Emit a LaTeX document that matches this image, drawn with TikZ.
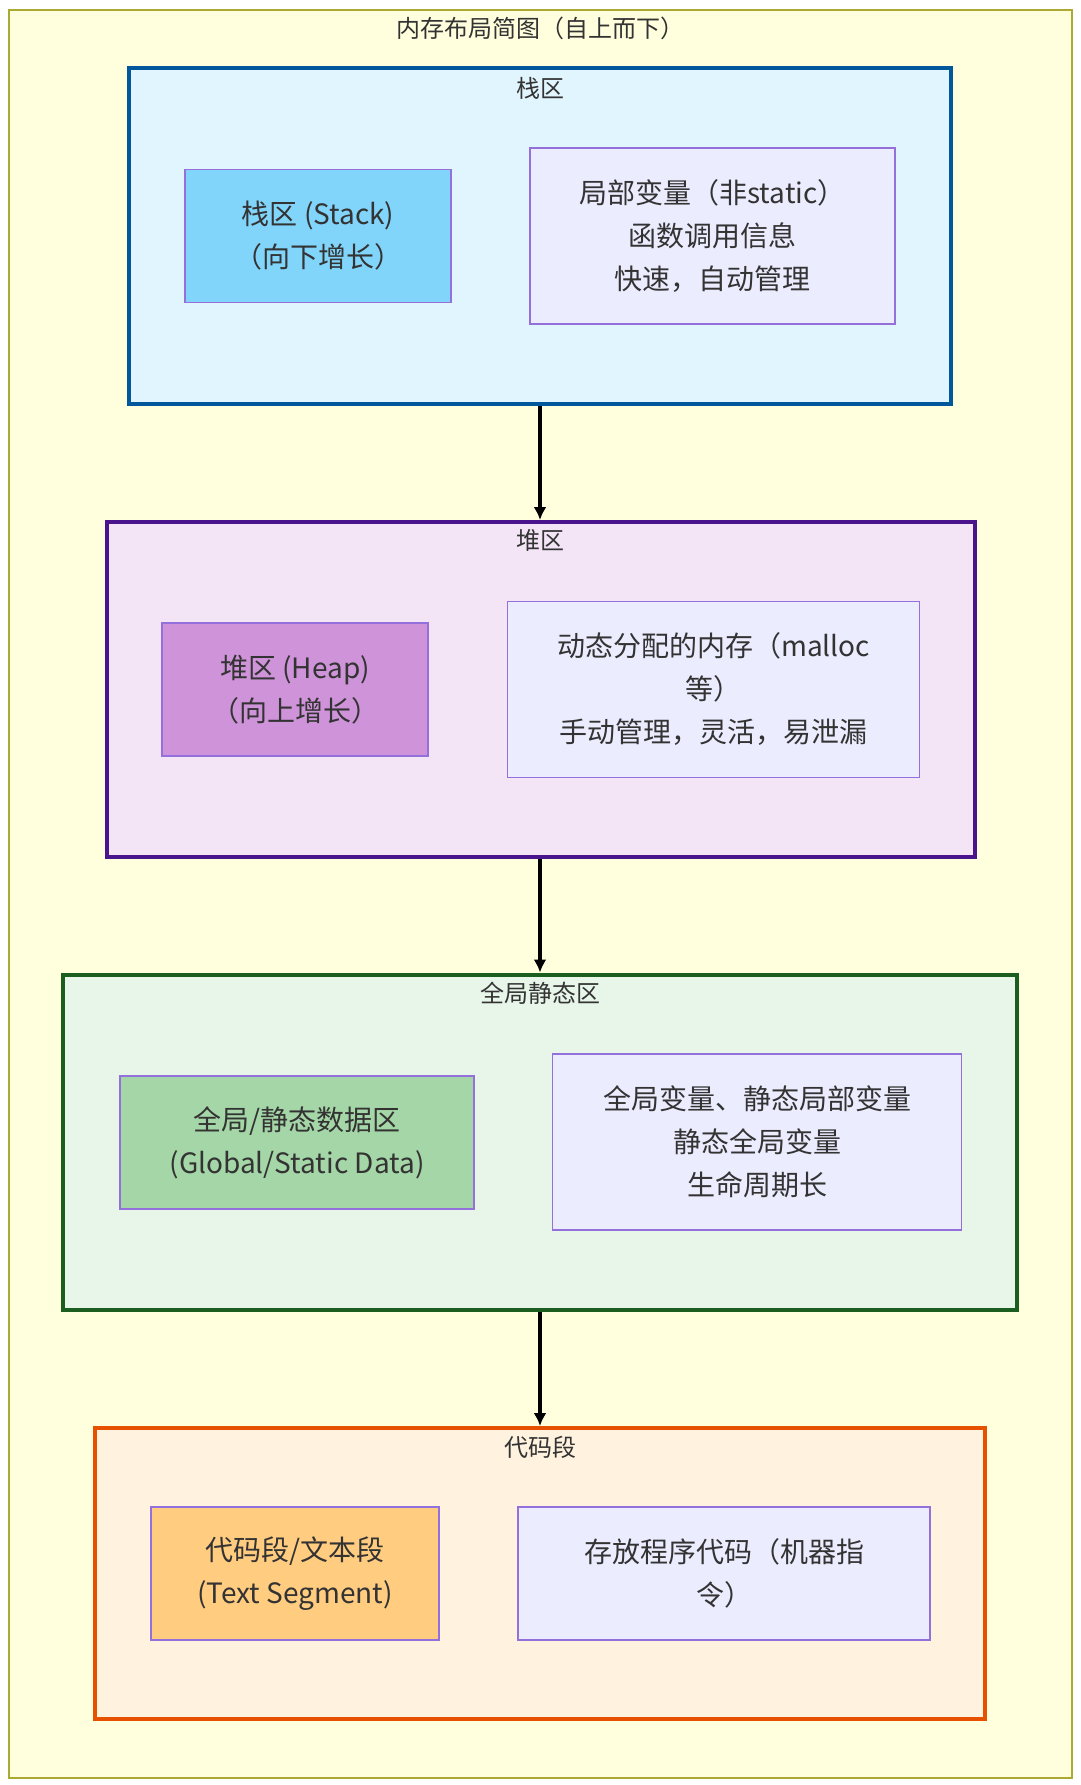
\documentclass[tikz,border=0pt]{standalone}
\usepackage{fontspec}
\setmainfont{Noto Sans CJK SC}
\usetikzlibrary{arrows.meta,positioning}
\definecolor{outerfill}{HTML}{FFFFDE}
\definecolor{outerdraw}{HTML}{AAAA33}
\definecolor{stackfill}{HTML}{E1F5FE}
\definecolor{stackdraw}{HTML}{01579B}
\definecolor{stackpfill}{HTML}{81D4FA}
\definecolor{heapfill}{HTML}{F3E5F5}
\definecolor{heapdraw}{HTML}{4A148C}
\definecolor{heappfill}{HTML}{CE93D8}
\definecolor{globfill}{HTML}{E8F5E9}
\definecolor{globdraw}{HTML}{1B5E20}
\definecolor{globpfill}{HTML}{A5D6A7}
\definecolor{codefill}{HTML}{FFF3E0}
\definecolor{codedraw}{HTML}{E65100}
\definecolor{codepfill}{HTML}{FFCC80}
\definecolor{infofill}{HTML}{ECECFF}
\definecolor{infodraw}{HTML}{9370DB}
\definecolor{txt}{HTML}{333333}
\tikzset{
    outerbox/.style={draw=outerdraw,fill=outerfill,line width=1.5pt},
    region/.style={draw,line width=4pt,inner sep=0pt,minimum height=335pt},
    title/.style={draw=none,text=txt,inner sep=0pt,font=\fontsize{24}{30}\selectfont},
    partbox/.style={draw=infodraw,line width=1.3pt,inner sep=0pt,align=center,text=txt,
        minimum height=133pt,font=\fontsize{28}{43}\selectfont},
    infobox/.style={partbox,fill=infofill,minimum height=176pt},
    arrowfwd/.style={-{Latex[length=13pt,width=13pt]},line width=3.5pt,black}
}
\begin{document}
\begin{tikzpicture}[x=1pt,y=-1pt]
        \useasboundingbox (0,0) rectangle (1080,1785);
        \draw[outerbox] (9,10) rectangle (1072,1778);
        \node[title] (maintitle) at (540,28) {内存布局简图（自上而下）};

        % stack
        \node[region,draw=stackdraw,fill=stackfill,minimum width=822pt] (stack) at (540,236) {};
        \node[title] (stacktitle) at (540,88) {栈区};
        \node[partbox,fill=stackpfill,minimum width=266pt] (stackpart) at (318,236) {栈区 (Stack)\\（向下增长）};
        \node[infobox,minimum width=365pt] (stackinfo) at (712.5,236) {局部变量（非static）\\函数调用信息\\快速，自动管理};

        % heap
        \node[region,draw=heapdraw,fill=heapfill,minimum width=868pt] (heap) at (540.5,689.5) {};
        \node[title] (heaptitle) at (540,540) {堆区};
        \node[partbox,fill=heappfill,minimum width=266pt] (heappart) at (295,689.5) {堆区 (Heap)\\（向上增长）};
        \node[infobox,minimum width=412pt] (heapinfo) at (713.5,689.5) {动态分配的内存（malloc\\等）\\手动管理，灵活，易泄漏};

        % global / static
        \node[region,draw=globdraw,fill=globfill,minimum width=954pt] (glob) at (540,1142) {};
        \node[title] (globtitle) at (540,993) {全局静态区};
        \node[partbox,fill=globpfill,minimum width=354pt] (globpart) at (297,1142.5) {全局/静态数据区\\(Global/Static Data)};
        \node[infobox,minimum width=409pt] (globinfo) at (757,1142) {全局变量、静态局部变量\\静态全局变量\\生命周期长};

        % code
        \node[region,draw=codedraw,fill=codefill,minimum width=890pt,minimum height=291pt] (code) at (540,1573.5) {};
        \node[title] (codetitle) at (540,1447) {代码段};
        \node[partbox,fill=codepfill,minimum width=288pt] (codepart) at (295,1573.5) {代码段/文本段\\(Text Segment)};
        \node[infobox,minimum width=412pt,minimum height=133pt] (codeinfo) at (724,1573.5) {存放程序代码（机器指\\令）};

        \begin{scope}
            \draw[arrowfwd] (stack.south) -- (heap.north -| stack.south);
            \draw[arrowfwd] (heap.south -| stack.south) -- (glob.north -| stack.south);
            \draw[arrowfwd] (glob.south -| stack.south) -- (code.north -| stack.south);
        \end{scope}
    \end{tikzpicture}
\end{document}
